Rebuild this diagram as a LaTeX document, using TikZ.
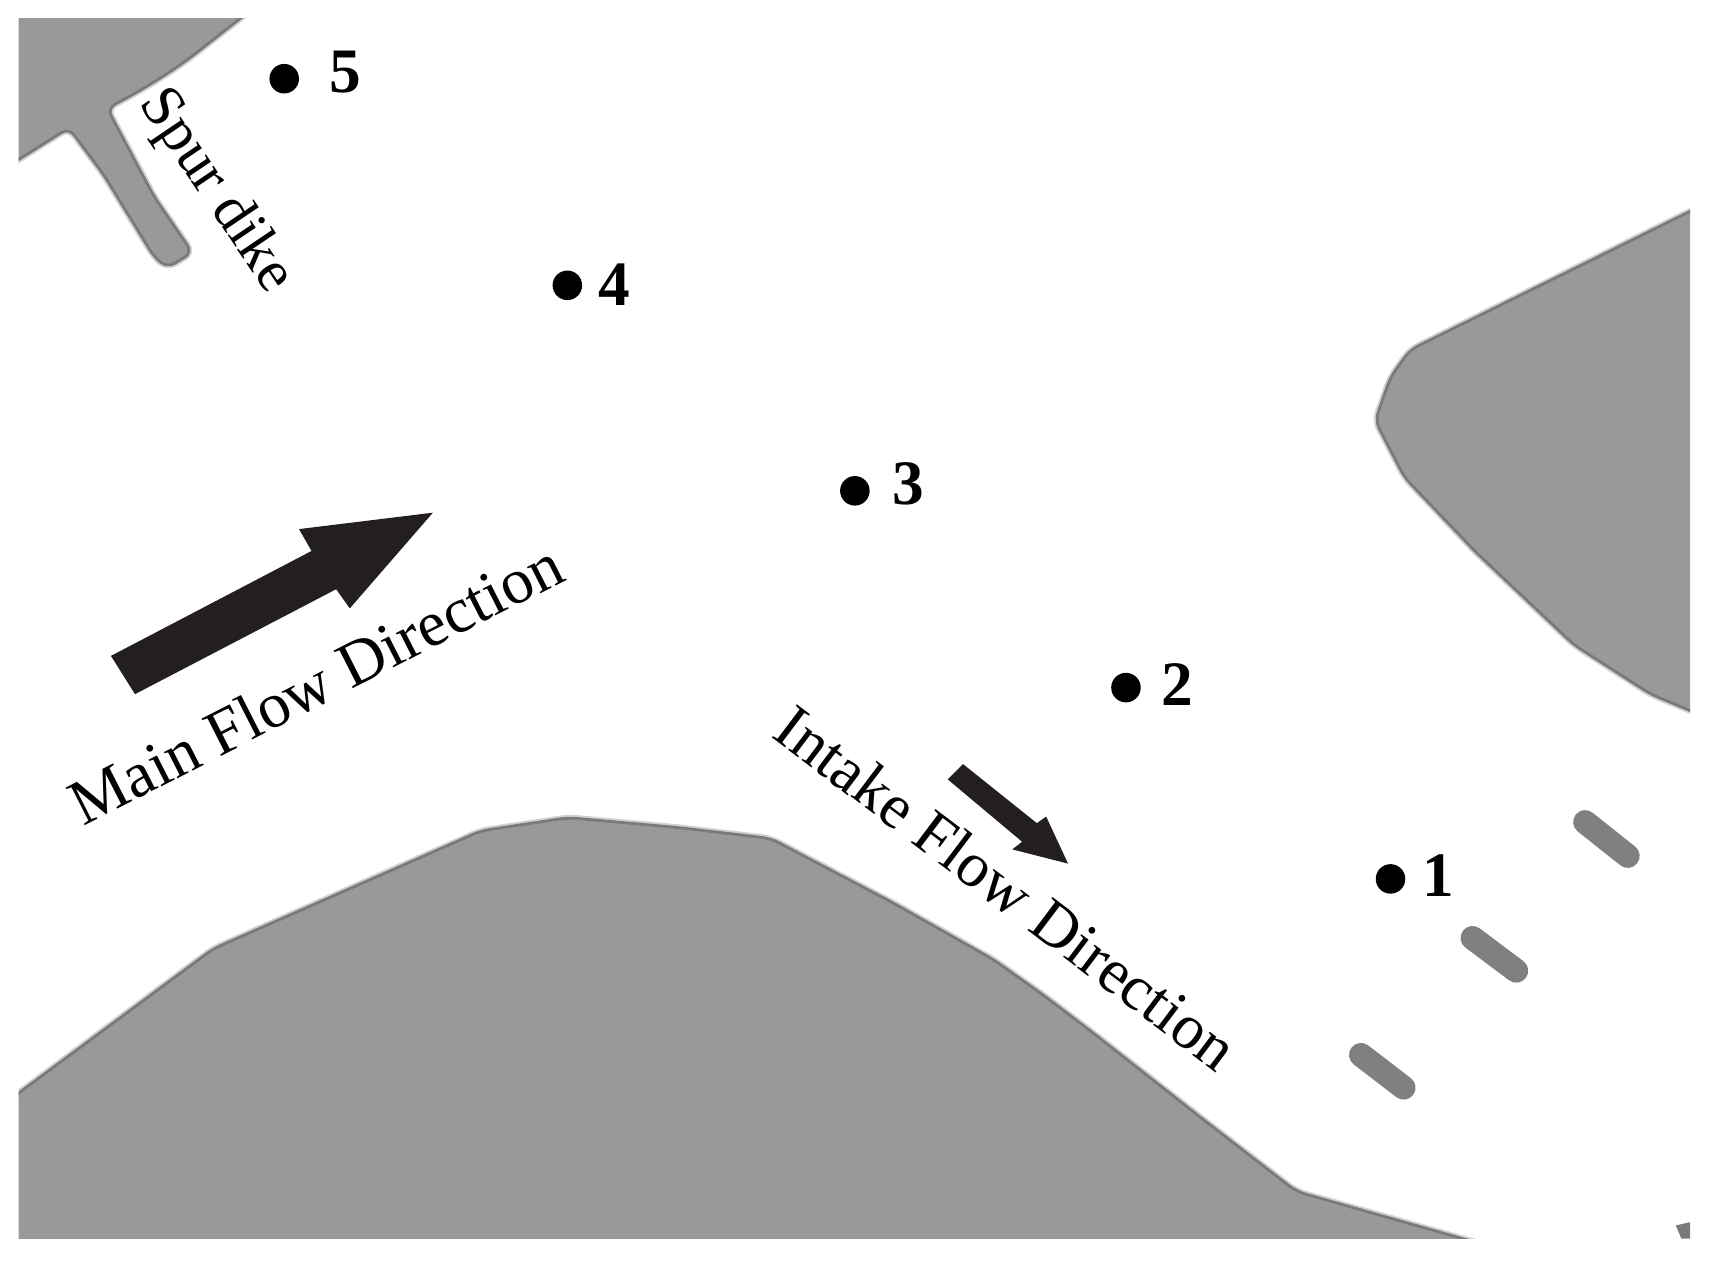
\documentclass[tikz,border=0pt]{standalone}
\usepackage{fontspec}
\setmainfont{Liberation Serif}
\definecolor{landfill}{gray}{0.6}
\definecolor{landedge}{gray}{0.48}
\definecolor{arrowfill}{HTML}{231F20}
\tikzset{
	land/.style={fill=landfill,draw=landedge,line width=0.8pt,line join=round,rounded corners=2.5pt,
		preaction={draw=landfill!45!white,line width=1.9pt}},
	groyne/.style={draw=gray,line width=6.8pt,line cap=round},
	gauge/.style={circle,fill=black,minimum size=0.295cm,inner sep=0pt},
	gaugenum/.style={font=\fontsize{18}{18}\selectfont\bfseries},
	flowtext/.style={font=\fontsize{18.3}{18.3}\selectfont,inner sep=0pt},
	flowarrow/.style={fill=arrowfill}
}
\begin{document}
\begin{tikzpicture}[x=0.01093cm,y=-0.01093cm]
		\useasboundingbox (0,0) rectangle (1567,1152.8);
		% land
		\begin{scope}
		\clip (17,17) rectangle (1546,1133);
		\path[land] (-10,-20) -- (240,1) -- (175,52) .. controls (150,70) and (125,85) .. (98,99) -- (141,180) -- (176,231) -- (153,245) -- (141,235) -- (95,160) -- (63,117) -- (-10,163) -- cycle;
		\path[land] (1575,179) -- (1290,320) -- (1272,345) -- (1258,385) -- (1285,437) -- (1350,505) -- (1440,590) -- (1510,635) -- (1575,662) -- cycle;
		\path[land] (-10,1020) -- (195,868) -- (440,760) -- (520,748) -- (620,757) -- (705,767) -- (817,826) -- (909,878) -- (954,910) -- (1000,945) -- (1098,1022) -- (1186,1090) -- (1380,1145) -- (1380,1165) -- (-10,1165) -- cycle;
		\fill[landedge] (1533,1121) -- (1546,1118) -- (1546,1133) -- (1538,1133) -- cycle;
		\end{scope}
		% small dikes
		\draw[groyne] (1450,752) -- (1489,783);
		\draw[groyne] (1347,858) -- (1387,888);
		\draw[groyne] (1245,965) -- (1284,995);
		% gauges
		\node[gauge] (p1) at (1272,804) {};
		\node[gauge] (p2) at (1030,629) {};
		\node[gauge] (p3) at (782,449) {};
		\node[gauge] (p4) at (519,261) {};
		\node[gauge] (p5) at (260,72) {};
		\node[gaugenum] (n1) at (1316,801) {1};
		\node[gaugenum] (n2) at (1077,626) {2};
		\node[gaugenum] (n3) at (831,443) {3};
		\node[gaugenum] (n4) at (562,260) {4};
		\node[gaugenum] (n5) at (316,66) {5};
		% flow arrows
		\fill[flowarrow] (101.5,600) -- (285,504) -- (273.5,484) -- (396,469) -- (320,556.5) -- (307.5,539) -- (123.5,635) -- cycle;
		\fill[flowarrow] (881,699) -- (948.5,753) -- (957,747) -- (977,790) -- (926,777) -- (935,770) -- (867,713) -- cycle;
		% labels
		\node[flowtext,rotate=27] (mainlabel) at (289,625) {Main Flow Direction};
		\node[flowtext,rotate=-37,font=\fontsize{18}{18}\selectfont] (intakelabel) at (921,812) {Intake Flow Direction};
		\node[flowtext,rotate=-56,font=\fontsize{17}{17}\selectfont] (spurlabel) at (197,175) {Spur dike};
	\end{tikzpicture}
\end{document}
